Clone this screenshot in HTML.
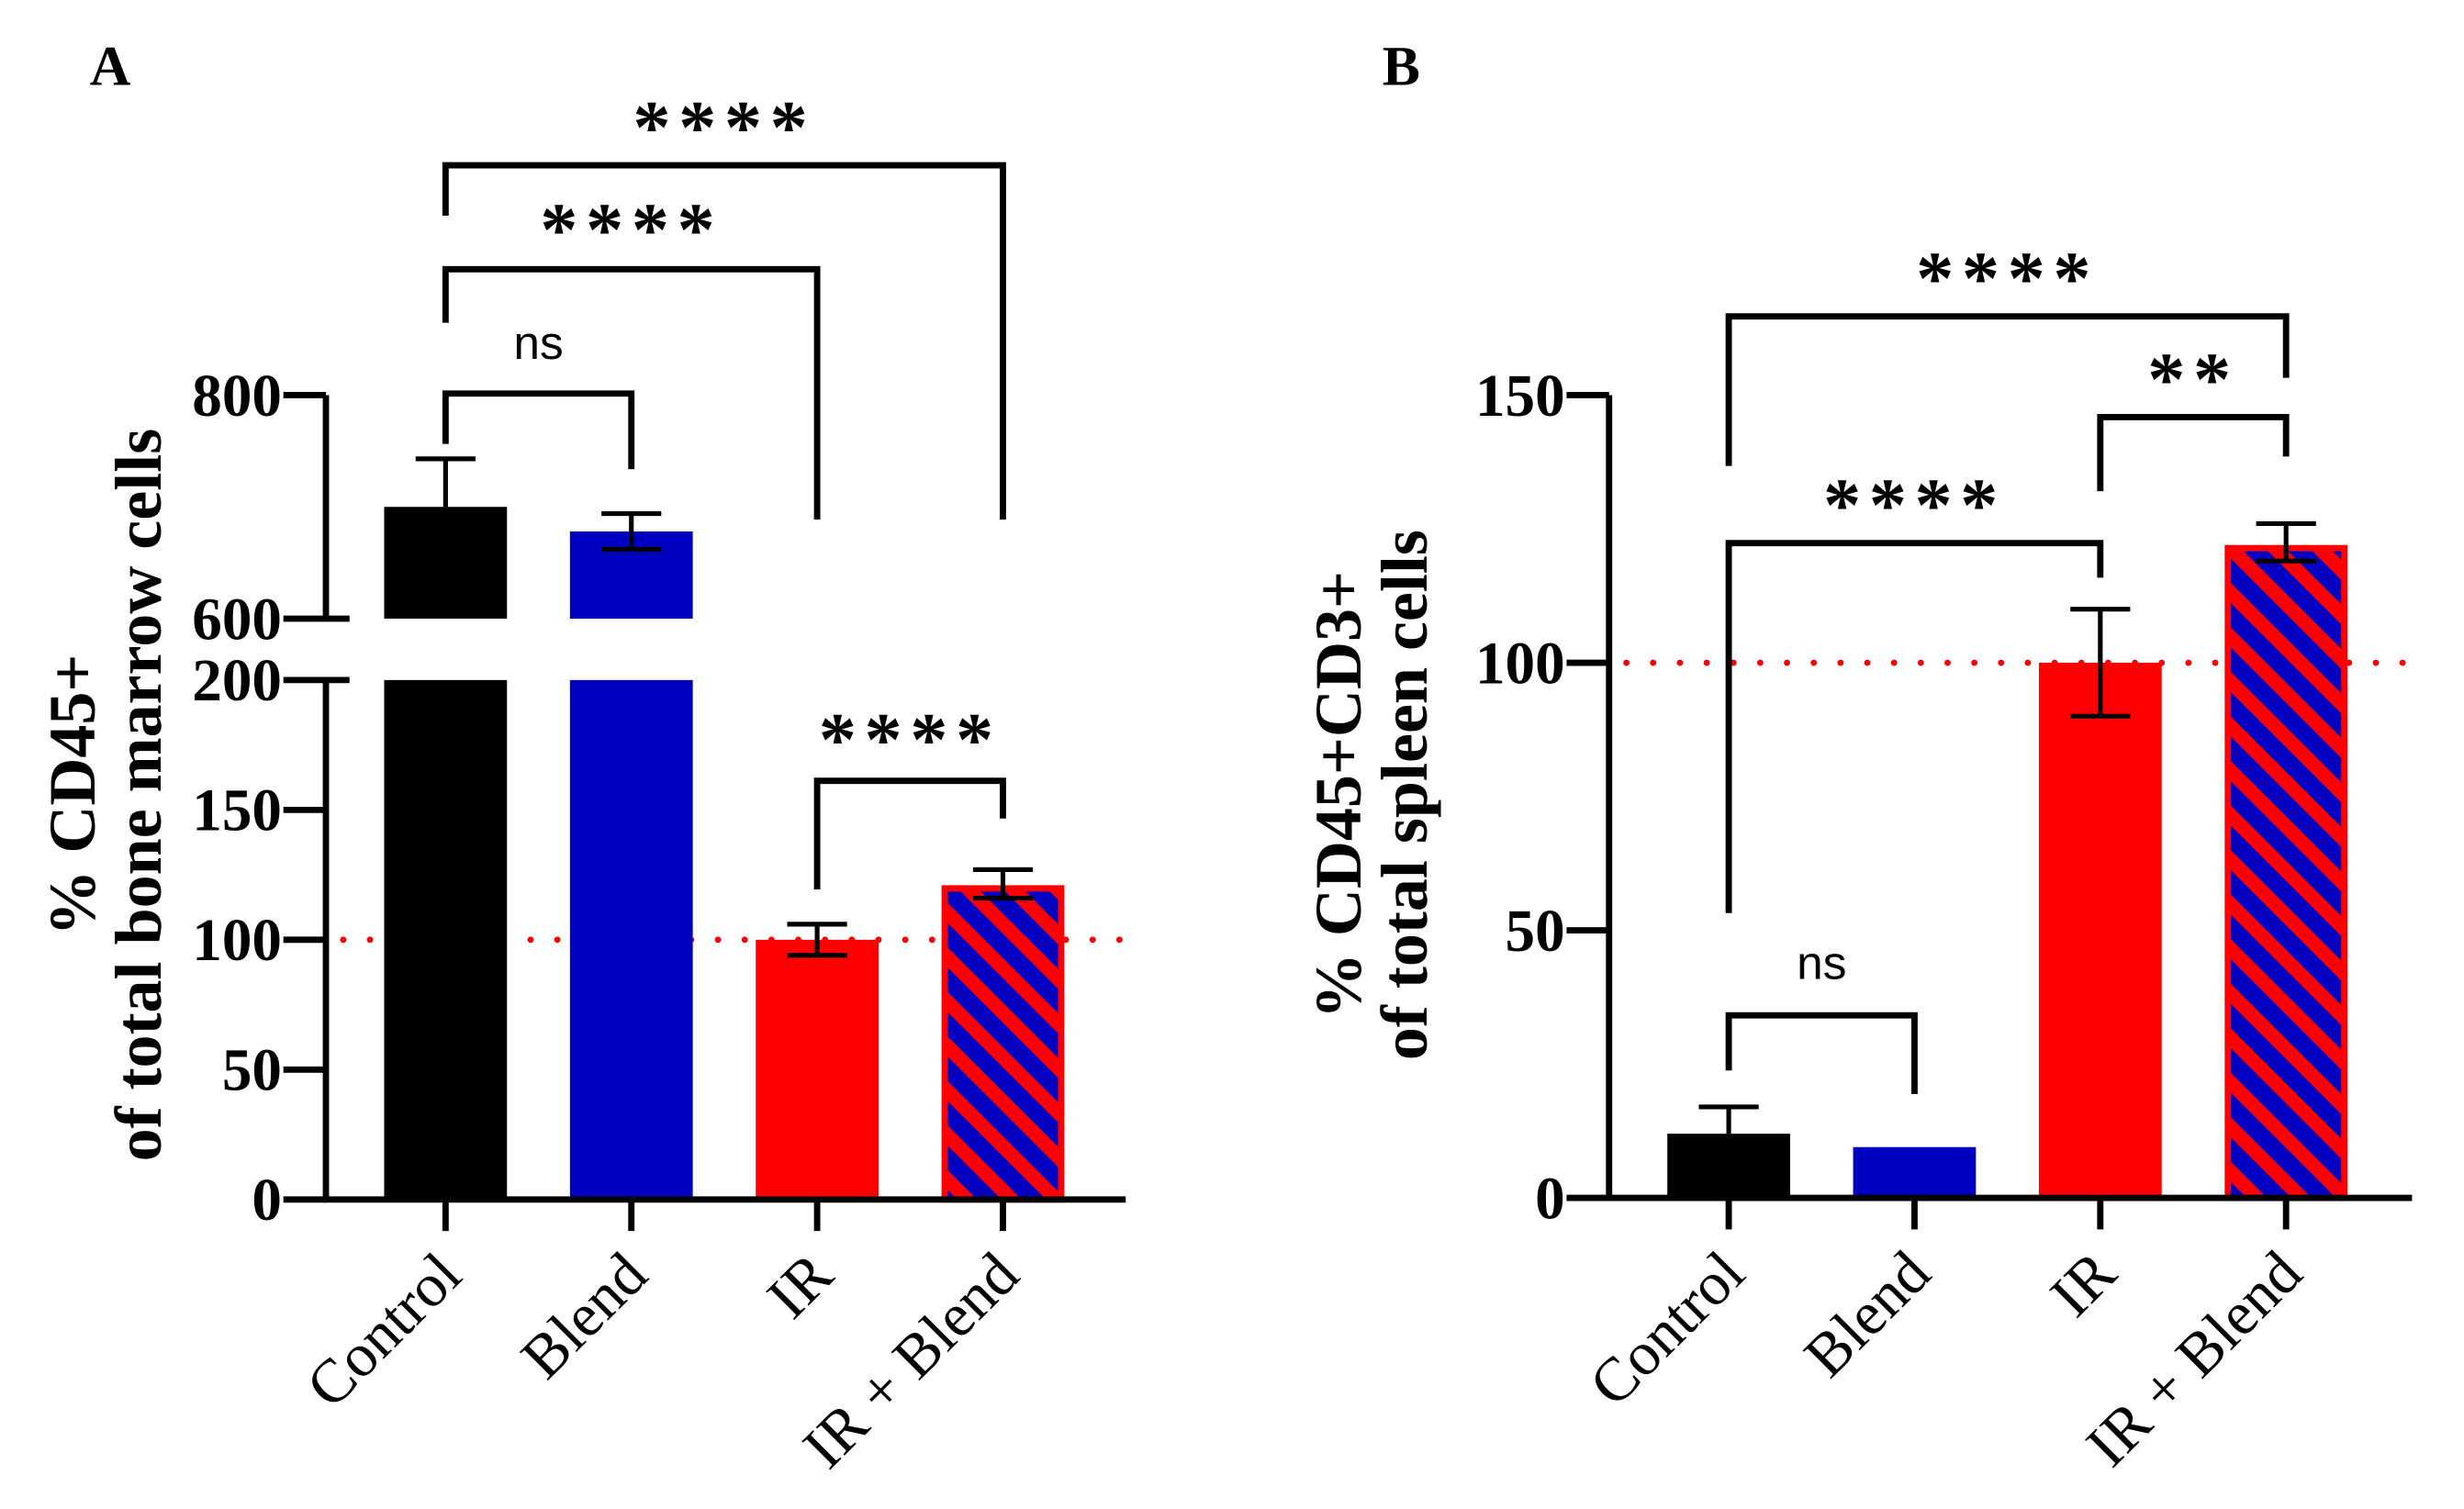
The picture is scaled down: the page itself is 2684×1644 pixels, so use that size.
<!DOCTYPE html>
<html><head><meta charset="utf-8"><style>
html,body{margin:0;padding:0;background:#fff}
svg{display:block}
.t{font-family:"Liberation Serif",serif;font-weight:bold;fill:#000}
.s{font-family:"Liberation Sans",sans-serif;fill:#000}
</style></head><body>
<svg id="fig" width="2684" height="1644" viewBox="0 0 1565 958.6" xmlns="http://www.w3.org/2000/svg">
<defs>
<pattern id="hatch" patternUnits="userSpaceOnUse" width="20" height="20" patternTransform="rotate(-45)">
<rect width="20" height="20" fill="#ff0000"/><rect x="0" y="0" width="11" height="20" fill="#0000c0"/>
</pattern>
</defs>
<text class="t" x="57" y="54" font-size="36">A</text>
<text class="t" x="878" y="54" font-size="36">B</text>
<g id="A"></g><g id="B"></g>
</svg>
<script>
const categories = ["Control","Blend","IR","IR + Blend"];
const aValues = [700, 678, 100, 121];
const aErrLo = [700, 662, 94, 116];
const aErrHi = [743, 694, 106, 127];
const aTicksLow = [0,50,100,150,200];
const aTicksHigh = [600,800];
const bValues = [12, 9.5, 100, 122];
const bErrLo = [12, 9.5, 90, 119];
const bErrHi = [17, 9.5, 110, 126];
const bTicks = [0,50,100,150];
const fills = ["#000000","#0000c0","#ff0000","url(#hatch)"];
const NS="http://www.w3.org/2000/svg";
function mk(p,tag,attrs){const e=document.createElementNS(NS,tag);for(const k in attrs)e.setAttribute(k,attrs[k]);p.appendChild(e);return e;}

function aY(v){ if(v<=200) return 762-(v/200)*(762-432); return 393-((v-600)/200)*(393-251); }
const aX = i=>283+i*118;
function bY(v){ return 761-(v/150)*(761-251); }
const bX = i=>1098+i*118;

function drawPanel(g,X,Y,vals,lo,hi,axisX,axisY,right,broken){
  const bw=78;
  const dl=mk(g,'line',{x1:axisX+11,x2:right,y1:Y(100),y2:Y(100),stroke:'#ff0000','stroke-width':4,'stroke-dasharray':'0 17','stroke-linecap':'round'});
  
  
  vals.forEach((v,i)=>{
    const x=X(i)-bw/2;
    const segs = (broken && v>200) ? [[0,200],[600,v]] : [[0,v]];
    segs.forEach(([a,b])=>{
      const hatch=i===3;
      const r=mk(g,'rect',{x:hatch?x+2:x,y:Y(b)+(hatch?2:0),width:hatch?bw-4:bw,height:Y(a)-Y(b)-(hatch?2:0),fill:fills[i],stroke:hatch?'#ff0000':'none','stroke-width':hatch?4:0});
      
      
    });
    if(hi[i]>v){
      const e=mk(g,'path',{d:`M${X(i)},${Y(lo[i])}V${Y(hi[i])}M${X(i)-19},${Y(hi[i])}H${X(i)+19}`+(lo[i]<v?`M${X(i)-19},${Y(lo[i])}H${X(i)+19}`:''),stroke:'#000','stroke-width':3,fill:'none'});
      
      
    }
    const tk=mk(g,'line',{x1:X(i),x2:X(i),y1:axisY,y2:axisY+20,stroke:'#000','stroke-width':4});
    
    
    const lx=X(i)+12, ly=axisY+50;
    const lt=mk(g,'text',{class:'t',x:lx,y:ly,'font-size':39,'text-anchor':'end',transform:`rotate(-45 ${lx} ${ly})`});
    lt.style.fontWeight='normal';
    lt.textContent=categories[i];
    
    
  });
  const xa=mk(g,'line',{x1:axisX-2,x2:right,y1:axisY,y2:axisY,stroke:'#000','stroke-width':4});
  
  
}
function yTick(g,axisX,y,label){
  const l=mk(g,'line',{x1:axisX-27,x2:axisX,y1:y,y2:y,stroke:'#000','stroke-width':4});
  
  
  const t=mk(g,'text',{class:'t',x:axisX-28,y:y+13,'font-size':38,'text-anchor':'end'});
  t.textContent=label;
  
  
}
function bracket(g,x1,l1,x2,l2,y,label,ty,isNs){
  const p=mk(g,'path',{d:`M${x1},${l1}V${y}H${x2}V${l2}`,stroke:'#000','stroke-width':4,fill:'none'});
  
  
  const t=mk(g,'text',{class:isNs?'s':'t',x:(x1+x2)/2,y:ty,'font-size':isNs?30:48,'text-anchor':'middle','letter-spacing':isNs?0:5});
  t.textContent=label;
  
  
}
const gA=document.getElementById('A');
drawPanel(gA,aX,aY,aValues,aErrLo,aErrHi,207,762,715,true);
mk(gA,'path',{d:`M207,762V432M207,393V251`,stroke:'#000','stroke-width':4,fill:'none'});
aTicksLow.forEach(v=>yTick(gA,207,aY(v),v));
aTicksHigh.forEach(v=>yTick(gA,207,aY(v),v));
[393,432].forEach(y=>{const l=mk(gA,'line',{x1:207,x2:222,y1:y,y2:y,stroke:'#000','stroke-width':4});});
bracket(gA,aX(0),282,aX(1),298,250,'ns',228,true);
bracket(gA,aX(0),205,aX(2),330,171,'****',162,false);
bracket(gA,aX(0),137,aX(3),330,105,'****',97,false);
bracket(gA,aX(2),565,aX(3),520,496,'****',486,false);
const ytA=mk(gA,'text',{class:'t','font-size':42,'text-anchor':'middle',transform:'translate(60 505) rotate(-90)'});
ytA.innerHTML='<tspan x="0" y="0">% CD45+</tspan><tspan x="0" y="42">of total bone marrow cells</tspan>';


const gB=document.getElementById('B');
drawPanel(gB,bX,bY,bValues,bErrLo,bErrHi,1022,761,1532,false);
mk(gB,'line',{x1:1022,x2:1022,y1:761,y2:251,stroke:'#000','stroke-width':4});
bTicks.forEach(v=>yTick(gB,1022,bY(v),v));
bracket(gB,bX(0),680,bX(1),695,645,'ns',622,true);
bracket(gB,bX(0),580,bX(2),367,345,'****',337,false);
bracket(gB,bX(2),312,bX(3),290,265,'**',257,false);
bracket(gB,bX(0),296,bX(3),240,201,'****',193,false);
const ytB=mk(gB,'text',{class:'t','font-size':42,'text-anchor':'middle',transform:'translate(864 505) rotate(-90)'});
ytB.innerHTML='<tspan x="0" y="0">% CD45+CD3+</tspan><tspan x="0" y="42">of total spleen cells</tspan>';


</script>
</body></html>
